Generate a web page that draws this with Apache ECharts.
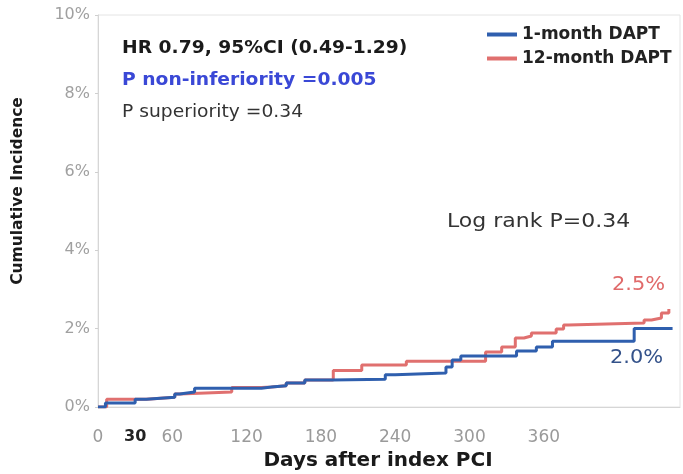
<!DOCTYPE html>
<html>
<head>
<meta charset="utf-8">
<script src="https://cdn.jsdelivr.net/npm/echarts@6/dist/echarts.min.js"></script>
<style>
  html, body { margin: 0; padding: 0; background: #ffffff; }
  #chart { width: 683px; height: 474px; }
</style>
</head>
<body>
<div id="chart"></div>
<script>
// Kaplan-Meier cumulative incidence, [day, percent] at each event step
const oneMonthDAPT = [
  [0, 0], [6, 0.1], [30, 0.2], [39, 0.25], [62, 0.33], [66, 0.38], [78, 0.48],
  [132, 0.51], [140, 0.54], [152, 0.61], [167, 0.69], [189, 0.71], [232, 0.82],
  [240, 0.87], [281, 1.02], [286, 1.2], [293, 1.3], [338, 1.43], [354, 1.53],
  [367, 1.68], [433, 2.0], [464, 2.0]
];
const twelveMonthDAPT = [
  [0, 0], [7, 0.2], [39, 0.25], [62, 0.33], [66, 0.38], [108, 0.5], [132, 0.51],
  [140, 0.54], [152, 0.61], [167, 0.69], [190, 0.93], [213, 1.07], [249, 1.17],
  [313, 1.4], [326, 1.53], [337, 1.76], [344, 1.81], [350, 1.89], [370, 1.99],
  [376, 2.09], [380, 2.14], [441, 2.22], [447, 2.27], [455, 2.4], [461, 2.5]
];
const seriesNames = ['1-month DAPT', '12-month DAPT'];
const xTickLabels = [0, 30, 60, 120, 180, 240, 300, 360];
const yTickLabels = [0, 2, 4, 6, 8, 10];
const statLines = [
  'HR 0.79, 95%CI (0.49-1.29)',
  'P non-inferiority =0.005',
  'P superiority =0.34'
];
const logRankText = 'Log rank P=0.34';

const BLUE = '#2f5fae';
const RED = '#e0706f';
const FONT = '"DejaVu Sans", sans-serif';
// annotation text is set slightly wide
const WIDE = 1.1;

const lastValue = arr => arr[arr.length - 1][1];

function note(left, top, text, size, weight, fill) {
  return {
    type: 'text', left, top, scaleX: WIDE,
    style: { text, fontFamily: FONT, fontSize: size, fontWeight: weight, fill }
  };
}

const chart = echarts.init(document.getElementById('chart'), null, { renderer: 'canvas' });

chart.setOption({
  backgroundColor: '#ffffff',
  animation: false,
  textStyle: { fontFamily: FONT },
  grid: {
    left: 98, right: 3, top: 15, bottom: 67,
    outerBoundsMode: 'none',
    containLabel: false,
    show: true, borderColor: '#e4e4e4', borderWidth: 1
  },
  legend: {
    orient: 'vertical',
    left: 482, top: 21,
    itemWidth: 30, itemHeight: 4, itemGap: 7,
    icon: 'rect',
    textStyle: { fontFamily: FONT, fontSize: 17, fontWeight: 'bold', color: '#222' },
    data: seriesNames
  },
  xAxis: {
    type: 'value',
    min: 0, max: 470, interval: 30,
    name: 'Days after index PCI',
    nameLocation: 'middle',
    nameGap: 44,
    nameTextStyle: { fontFamily: FONT, fontSize: 20, fontWeight: 'bold', color: '#1a1a1a', padding: [0, 22, 0, 0] },
    axisLine: { show: true, lineStyle: { color: '#d6d6d6', width: 1 } },
    axisTick: { show: false },
    splitLine: { show: false },
    axisLabel: {
      showMaxLabel: false,
      margin: 22,
      fontSize: 17,
      color: '#9a9a9a',
      formatter: v => {
        if (!xTickLabels.includes(v)) return '';
        return v === 30 ? '{b|' + v + '}' : String(v);
      },
      rich: { b: { fontSize: 16, fontWeight: 'bold', color: '#222', fontFamily: FONT } }
    }
  },
  yAxis: {
    type: 'value',
    min: 0, max: 10, interval: 2,
    name: 'Cumulative Incidence',
    nameLocation: 'middle',
    nameGap: 72,
    nameTextStyle: { fontFamily: FONT, fontSize: 15.5, fontWeight: 'bold', color: '#1a1a1a', padding: [0, 0, 0, 40] },
    axisLine: { show: true, lineStyle: { color: '#d6d6d6', width: 1 } },
    axisTick: { show: true, length: 3, lineStyle: { color: '#cfcfcf' } },
    splitLine: { show: false },
    axisLabel: {
      margin: 8,
      fontSize: 16,
      color: '#a0a0a0',
      formatter: v => (yTickLabels.includes(v) ? v + '%' : '')
    }
  },
  series: [
    {
      name: seriesNames[1],
      type: 'line',
      step: 'end',
      symbol: 'none',
      data: twelveMonthDAPT,
      lineStyle: { color: RED, width: 3 },
      itemStyle: { color: RED },
      z: 2
    },
    {
      name: seriesNames[0],
      type: 'line',
      step: 'end',
      symbol: 'none',
      data: oneMonthDAPT,
      lineStyle: { color: BLUE, width: 3 },
      itemStyle: { color: BLUE },
      z: 3
    }
  ],
  graphic: [
    note(122, 40, statLines[0], 17, 'bold', '#1a1a1a'),
    note(122, 72, statLines[1], 17, 'bold', '#3a48d6'),
    note(122, 104, statLines[2], 17, 'normal', '#333'),
    note(447, 212, logRankText, 20, 'normal', '#333'),
    note(612, 276, lastValue(twelveMonthDAPT).toFixed(1) + '%', 19, 'normal', '#e06a6a'),
    note(610, 349, lastValue(oneMonthDAPT).toFixed(1) + '%', 19, 'normal', '#34528a')
  ]
});
</script>
</body>
</html>
